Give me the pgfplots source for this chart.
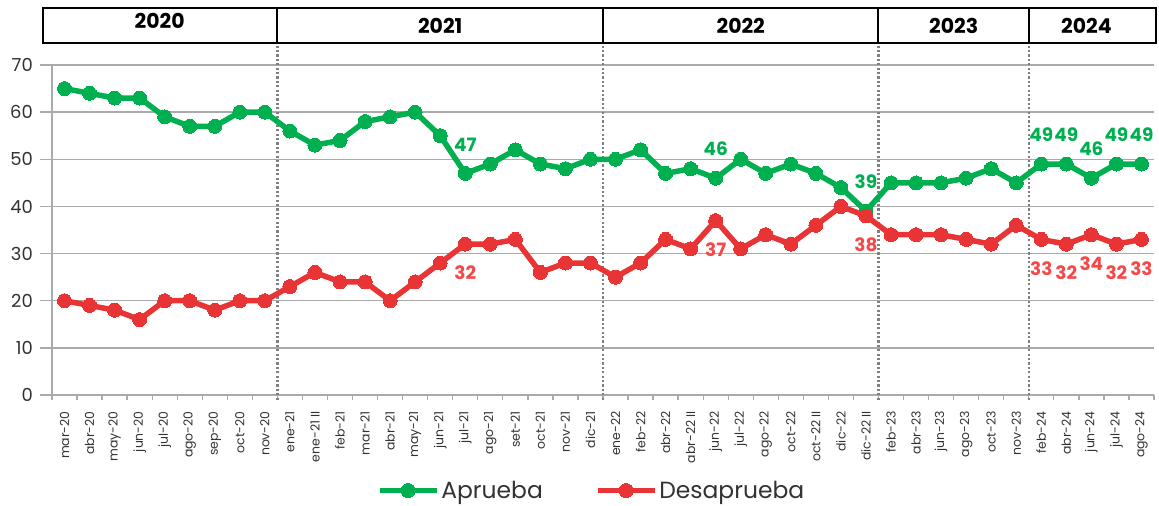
\documentclass[border=0pt]{standalone}
\usepackage{pgfplots}
\usepackage{pgfplotstable}
\pgfplotsset{compat=1.18}
\usepackage{fontspec}
\setmainfont{Poppins}
\definecolor{cgreen}{RGB}{0,176,80}
\definecolor{cred}{RGB}{232,52,52}
\definecolor{lred}{RGB}{245,72,72}
\definecolor{cgrid}{RGB}{170,170,170}
\definecolor{cdot}{RGB}{128,128,128}
\definecolor{ctext}{RGB}{50,50,50}
\pgfplotstableread{
x a d
0 65 20
1 64 19
2 63 18
3 63 16
4 59 20
5 57 20
6 57 18
7 60 20
8 60 20
9 56 23
10 53 26
11 54 24
12 58 24
13 59 20
14 60 24
15 55 28
16 47 32
17 49 32
18 52 33
19 49 26
20 48 28
21 50 28
22 50 25
23 52 28
24 47 33
25 48 31
26 46 37
27 50 31
28 47 34
29 49 32
30 47 36
31 44 40
32 39 38
33 45 34
34 45 34
35 45 34
36 46 33
37 48 32
38 45 36
39 49 33
40 49 32
41 46 34
42 49 32
43 49 33
}\data
\begin{document}
\begin{tikzpicture}
\path[use as bounding box] (-52bp,-111bp) rectangle (1107bp,395bp);
\begin{axis}[
  at={(0,0)}, anchor=south west,
  scale only axis, width=1102bp, height=330bp,
  xmin=-0.5, xmax=43.5, ymin=0, ymax=70,
  clip=false,
  axis x line=bottom, axis y line=left,
  axis line style={cgrid, line width=1.3bp, -},
  tick align=outside,
  major tick length=12bp, minor tick length=5bp,
  xtick={0,...,43},
  minor xtick={-0.5,0.5,...,43.5},
  major x tick style={draw=none},
  minor x tick style={cgrid, line width=1.3bp},
  y tick style={cgrid, line width=1.3bp},
  ytick={0,10,...,70},
  ymajorgrids, grid style={cgrid, line width=1.3bp},
  xticklabels={mar-20,abr-20,may-20,jun-20,jul-20,ago-20,sep-20,oct-20,nov-20,ene-21,ene-21 II,feb-21,mar-21,abr-21,may-21,jun-21,jul-21,ago-21,set-21,oct-21,nov-21,dic-21,ene-22,feb-22,abr-22,abr-22 II,jun-22,jul-22,ago-22,oct-22,oct-22 II,dic-22,dic-22 II,feb-23,abr-23,jun-23,ago-23,oct-23,nov-23,feb-24,abr-24,jun-24,jul-24,ago-24},
  xticklabel style={rotate=90, anchor=east, font=\fontsize{12.5}{13}\selectfont, text=ctext, inner sep=0bp},
  xticklabel shift=4bp,
  yticklabel style={font=\fontsize{18}{18}\selectfont, text=ctext, inner sep=0bp},
  yticklabel shift=7bp,
  /pgf/number format/assume math mode=true,
  legend columns=2,
  legend style={at={(0.4896,-0.2894)}, anchor=center, draw=none, fill=none,
    font=\fontsize{23.5}{24}\selectfont, text=ctext,
    /tikz/every even column/.append style={column sep=50bp},
    inner sep=0pt, nodes={inner sep=2bp}},
  legend image code/.code={\draw[mark repeat=2,mark phase=2] plot coordinates {(0bp,0bp) (28.5bp,0bp) (57bp,0bp)};},
]
% header
\draw[black, line width=2bp] (axis cs:-0.87,74.6) rectangle (axis cs:43.58,82.03);
\pgfplotsinvokeforeach{8.5,21.5,32.5,38.5}{
  \draw[black, line width=2bp] (axis cs:#1,74.6) -- (axis cs:#1,82.03);
  \draw[cdot, line width=2.2bp, dash pattern=on 2.2bp off 2.2bp] (axis cs:#1,-1) -- (axis cs:#1,74.6);
}
\node[font=\bfseries\fontsize{20.5}{21}\selectfont] at (axis cs:3.8,79.3) {2020};
\node[font=\bfseries\fontsize{20.5}{21}\selectfont] at (axis cs:15,78.3) {2021};
\node[font=\bfseries\fontsize{20.5}{21}\selectfont] at (axis cs:27,78.3) {2022};
\node[font=\bfseries\fontsize{20.5}{21}\selectfont] at (axis cs:35.5,78.3) {2023};
\node[font=\bfseries\fontsize{20.5}{21}\selectfont] at (axis cs:40.8,78.3) {2024};

\addplot[cgreen, line width=5.5bp, line join=round, mark=*, mark size=7bp, mark options={solid, line width=0pt}] table[x=x,y=a]{\data};
\addlegendentry{Aprueba}
\addplot[cred, line width=5.5bp, line join=round, mark=*, mark size=7bp, mark options={solid, line width=0pt}] table[x=x,y=d]{\data};
\addlegendentry{Desaprueba}

\addplot[draw=none, mark=none, forget plot, nodes near coords, point meta=explicit symbolic,
  nodes near coords style={font=\bfseries\fontsize{18.5}{19}\selectfont, text=cgreen, anchor=center, yshift=29bp, inner sep=0pt}]
  coordinates {(16,47)[47] (26,46)[46] (32,39)[39] (39,49)[49] (40,49)[49] (41,46)[46] (42,49)[49] (43,49)[49]};
\addplot[draw=none, mark=none, forget plot, nodes near coords, point meta=explicit symbolic,
  nodes near coords style={font=\bfseries\fontsize{18.5}{19}\selectfont, text=lred, anchor=center, yshift=-29bp, inner sep=0pt}]
  coordinates {(16,32)[32] (26,37)[37] (32,38)[38] (39,33)[33] (40,32)[32] (41,34)[34] (42,32)[32] (43,33)[33]};
\end{axis}
\end{tikzpicture}
\end{document}
